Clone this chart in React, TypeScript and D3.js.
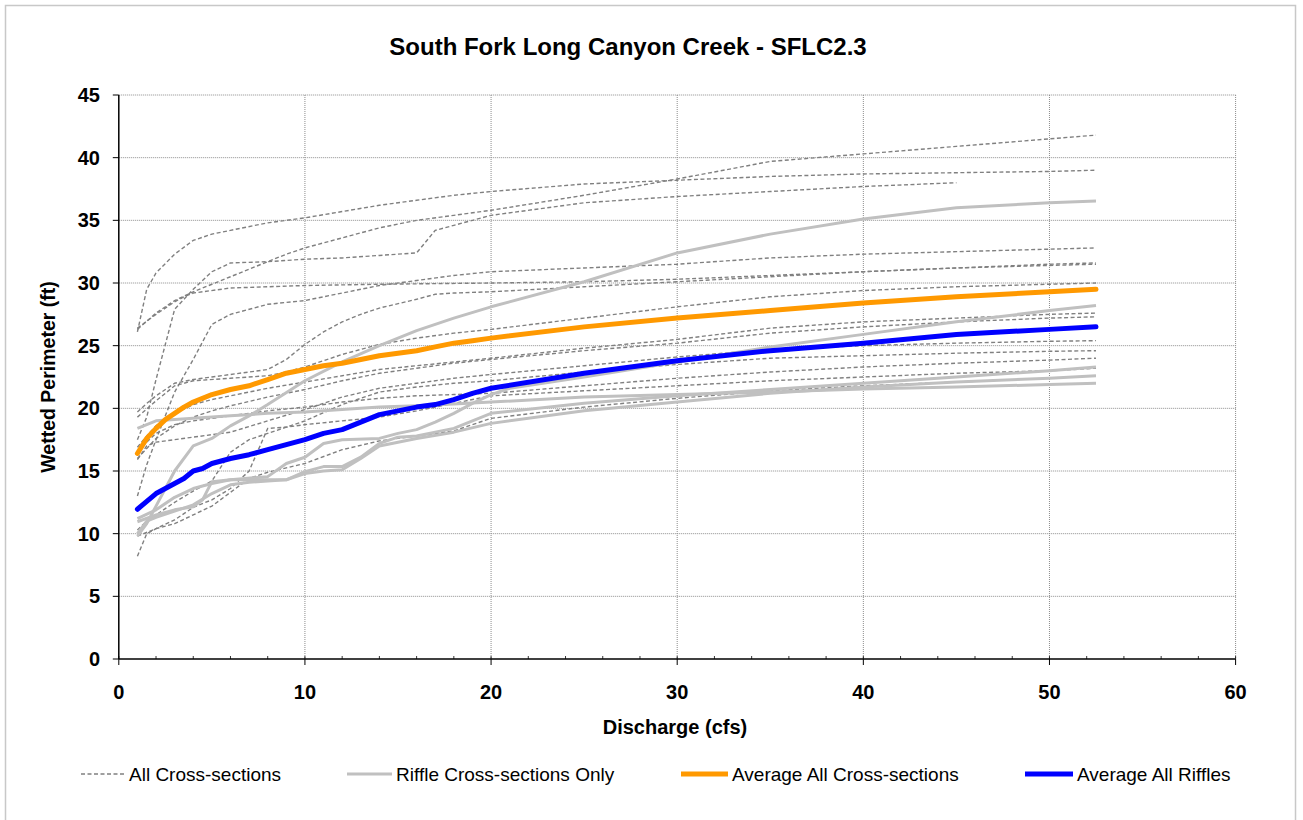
import React from "react";
import * as d3 from "d3";

type Pt = [number, number];

const TITLE = "South Fork Long Canyon Creek - SFLC2.3";
const X_LABEL = "Discharge (cfs)";
const Y_LABEL = "Wetted Perimeter (ft)";
const X_TICKS = [0, 10, 20, 30, 40, 50, 60];
const Y_TICKS = [0, 5, 10, 15, 20, 25, 30, 35, 40, 45];
const X_MINOR = d3.range(0, 61, 2);
const LEGEND = ["All Cross-sections", "Riffle Cross-sections Only", "Average All Cross-sections", "Average All Riffles"];

// All cross-sections (dashed)
const xs01: Pt[] = [[1,26.1],[1.5,29.5],[2,30.8],[3,32.3],[4,33.4],[5,33.9],[6,34.2],[8,34.8],[10,35.2],[12,35.7],[14,36.2],[16,36.6],[18,37.0],[20,37.3],[25,37.9],[30,38.2],[35,38.5],[40,38.7],[45,38.8],[50,38.9],[52.5,39.0]];
const xs02: Pt[] = [[1,26.3],[2,27.6],[3,28.6],[4,29.3],[5,29.9],[6,30.5],[7,31.1],[8,31.7],[9,32.3],[10,32.8],[12,33.6],[14,34.4],[16,35.0],[18,35.4],[20,35.8],[25,37.0],[30,38.3],[35,39.7],[40,40.3],[45,40.9],[50,41.5],[52.5,41.8]];
const xs03: Pt[] = [[1,17.5],[1.5,19.3],[2,22.3],[3,27.9],[4,29.5],[5,30.9],[6,31.6],[8,31.7],[10,31.9],[12,32.0],[14,32.2],[16,32.4],[17,34.2],[18,34.6],[20,35.4],[25,36.4],[30,36.9],[35,37.3],[40,37.7],[45,38.0]];
const xs04: Pt[] = [[1,13.0],[1.5,15.5],[2,17.5],[3,21.3],[4,23.9],[5,26.7],[6,27.5],[8,28.3],[10,28.6],[12,29.2],[14,29.8],[16,30.2],[18,30.6],[20,30.9],[25,31.2],[30,31.5],[35,32.0],[40,32.3],[45,32.5],[50,32.7],[52.5,32.8]];
const xs05: Pt[] = [[1,26.4],[2,27.5],[3,28.5],[3.5,28.9],[4,29.2],[6,29.6],[8,29.7],[10,29.8],[14,29.9],[20,30.0],[25,30.1],[30,30.3],[35,30.6],[40,30.9],[45,31.2],[50,31.4],[52.5,31.5]];
const xs06: Pt[] = [[1,19.7],[1.5,20.4],[2,21.0],[3,22.0],[4,22.3],[5,22.5],[6,22.7],[7,22.9],[8,23.1],[9,23.9],[10,25.1],[11,26.1],[12,26.9],[13,27.5],[14,28.0],[16,28.7],[17,29.1],[18,29.2],[20,29.3],[25,29.7],[30,30.1],[35,30.5],[40,30.9],[45,31.2],[50,31.5],[52.5,31.6]];
const xs07: Pt[] = [[1,19.3],[2,20.6],[3,21.8],[4,22.2],[6,22.4],[8,22.6],[9,22.9],[10,23.3],[12,24.3],[14,25.1],[16,25.6],[18,26.0],[20,26.3],[25,27.2],[30,28.1],[35,28.9],[40,29.4],[45,29.7],[50,29.9],[52.5,30.0]];
const xs08: Pt[] = [[1,16.9],[1.5,17.8],[2,18.6],[3,19.6],[4,20.3],[5,20.7],[6,21.0],[8,21.6],[10,22.1],[12,22.6],[14,23.1],[16,23.4],[18,23.7],[20,24.0],[25,24.8],[30,25.5],[35,26.4],[40,26.9],[45,27.2],[50,27.5],[52.5,27.6]];
const xs09: Pt[] = [[1,16.0],[2,17.6],[3,18.6],[4,19.3],[5,19.8],[6,20.2],[8,20.9],[10,21.5],[12,22.2],[14,22.8],[16,23.2],[18,23.6],[20,23.9],[25,24.6],[30,25.2],[35,26.0],[40,26.5],[45,26.9],[50,27.2],[52.5,27.3]];
const xs10: Pt[] = [[1,15.9],[1.5,17.0],[2,17.3],[3,17.5],[5,17.9],[6,18.1],[8,19.0],[10,19.9],[12,20.9],[14,21.6],[16,22.0],[18,22.4],[20,22.7],[25,23.4],[30,24.1],[35,24.7],[40,25.0],[45,25.2],[50,25.35],[52.5,25.4]];
const xs11: Pt[] = [[1,10.3],[1.5,11.0],[2,11.5],[3,12.5],[4,13.4],[5,14.2],[6,16.5],[7,17.5],[8,18.0],[10,19.0],[12,20.3],[14,21.3],[16,21.7],[18,22.0],[20,22.2],[25,22.9],[30,23.5],[35,24.0],[40,24.2],[45,24.4],[50,24.55],[52.5,24.6]];
const xs12: Pt[] = [[1,16.6],[2,18.0],[3,18.7],[4,19.0],[5,19.2],[6,19.4],[8,19.8],[10,20.1],[12,20.5],[14,20.8],[16,21.0],[18,21.1],[20,21.2],[25,21.8],[30,22.4],[35,22.9],[40,23.3],[45,23.6],[50,23.85],[52.5,24.0]];
const xs13: Pt[] = [[1,8.2],[1.5,10.0],[2,10.4],[3,11.1],[4,12.1],[5,12.7],[6,13.6],[7,15.0],[8,18.4],[9,18.5],[10,18.7],[12,19.0],[14,19.3],[16,19.8],[18,20.4],[20,21.0],[25,21.4],[30,21.8],[35,22.2],[40,22.5],[45,22.8],[50,23.0],[52.5,23.2]];
const xs14: Pt[] = [[1,9.8],[2,10.4],[3,10.8],[4,11.5],[5,12.2],[6,13.3],[7,14.4],[8,14.9],[10,15.6],[12,16.7],[14,17.4],[16,17.8],[18,18.2],[20,19.2],[25,20.1],[30,20.8],[35,21.4],[40,21.8],[45,22.1],[50,22.4],[52.5,22.6]];
const ALL_XS: Pt[][] = [xs01, xs02, xs03, xs04, xs05, xs06, xs07, xs08, xs09, xs10, xs11, xs12, xs13, xs14];

// Riffle cross-sections (solid grey)
const rf1: Pt[] = [[1,18.4],[1.5,18.7],[2,19.0],[3,19.1],[4,19.2],[5,19.3],[6,19.4],[8,19.6],[10,19.7],[12,19.9],[14,20.1],[16,20.2],[18,20.35],[20,20.5],[25,20.9],[30,21.1],[35,21.3],[40,21.55],[45,21.7],[50,21.9],[52.5,22.0]];
const rf2: Pt[] = [[1,9.8],[1.5,10.8],[2,12.2],[3,15.0],[4,17.0],[5,17.6],[6,18.6],[7,19.4],[8,20.3],[10,22.2],[12,23.7],[14,25.0],[16,26.2],[18,27.2],[20,28.1],[25,30.1],[30,32.4],[35,33.9],[40,35.1],[45,36.0],[50,36.4],[52.5,36.55]];
const rf3: Pt[] = [[1,11.2],[2,11.9],[3,12.9],[4,13.6],[5,14.0],[6,14.3],[8,14.55],[9,15.6],[10,16.1],[11,17.2],[12,17.5],[14,17.6],[15,18.0],[16,18.3],[17,18.9],[18,19.6],[19,20.4],[20,21.1],[21,21.6],[25,22.5],[30,23.7],[35,24.9],[40,25.9],[45,26.9],[50,27.8],[52.5,28.2]];
const rf4: Pt[] = [[1,10.95],[2,11.5],[3,11.9],[4,12.15],[4.5,12.7],[5,14.15],[6,14.3],[9,14.3],[10,14.95],[11,15.35],[12,15.35],[13,16.1],[14,17.2],[15,17.7],[16,17.8],[18,18.4],[20,19.6],[25,20.4],[30,21.0],[35,21.5],[40,22.0],[45,22.5],[50,23.0],[52.5,23.3]];
const rf5: Pt[] = [[1,10.0],[1.5,11.0],[2,11.3],[3,11.8],[4,12.3],[5,13.2],[6,13.9],[7,14.1],[8,14.2],[9,14.3],[10,14.8],[11,15.0],[12,15.1],[13,16.0],[14,17.0],[15,17.3],[16,17.6],[18,18.1],[20,18.8],[25,19.8],[30,20.5],[35,21.2],[40,21.7],[45,22.1],[50,22.4],[52.5,22.6]];
const RIFFLES: Pt[][] = [rf1, rf2, rf3, rf4, rf5];

const avgAll: Pt[] = [[1,16.4],[1.5,17.6],[2,18.4],[2.5,19.1],[3,19.6],[3.5,20.1],[4,20.5],[5,21.1],[6,21.5],[7,21.8],[8,22.3],[9,22.8],[10,23.1],[11,23.4],[12,23.6],[13,23.9],[14,24.2],[15,24.4],[16,24.6],[17,24.9],[18,25.2],[19,25.4],[20,25.6],[25,26.5],[30,27.2],[35,27.8],[40,28.4],[45,28.9],[50,29.3],[52.5,29.5]];
const avgRiffles: Pt[] = [[1,11.95],[2,13.2],[3,14.0],[3.5,14.4],[4,15.0],[4.5,15.2],[5,15.6],[6,16.0],[7,16.3],[8,16.7],[9,17.1],[10,17.5],[11,18.0],[12,18.3],[13,18.9],[14,19.5],[15,19.8],[16,20.1],[17,20.3],[18,20.7],[19,21.2],[20,21.6],[25,22.8],[30,23.8],[35,24.6],[40,25.2],[45,25.9],[50,26.3],[52.5,26.5]];

const W = 1303, H = 820;
const PL = 118.8, PR = 1235.6, PT = 95, PB = 659;

export default function App() {
  const x = d3.scaleLinear().domain([0, 60]).range([PL, PR]);
  const y = d3.scaleLinear().domain([0, 45]).range([PB, PT]);
  const line = d3.line<Pt>().x(d => x(d[0])).y(d => y(d[1]));
  const font = "Arial, 'Liberation Sans', sans-serif";
  const dashStyle = { stroke: "#808080", strokeWidth: 1.4, strokeDasharray: "4,2.5", fill: "none" };
  const legendItems = [
    { label: LEGEND[0], x0: 81, x1: 125, style: dashStyle },
    { label: LEGEND[1], x0: 347, x1: 392, style: { stroke: "#c0c0c0", strokeWidth: 3, fill: "none" } },
    { label: LEGEND[2], x0: 681, x1: 728, style: { stroke: "#ff9900", strokeWidth: 5, fill: "none" } },
    { label: LEGEND[3], x0: 1025, x1: 1073, style: { stroke: "#0000ff", strokeWidth: 5, fill: "none" } },
  ];
  return (
    <svg width={W} height={H} style={{ position: "absolute", left: 0, top: 0, background: "#fff" }} fontFamily={font}>
      <rect x={5.5} y={5.5} width={1290} height={840} fill="#fff" stroke="#c8c8c8" strokeWidth={1.5} />
      <text x={628} y={55} textAnchor="middle" fontSize={24} fontWeight="bold">{TITLE}</text>
      {/* grid */}
      {Y_TICKS.filter(t => t > 0).map(t => (
        <line key={"gy" + t} x1={PL} x2={PR} y1={y(t)} y2={y(t)} stroke="#8c8c8c" strokeWidth={1} strokeDasharray="1,1" />
      ))}
      {X_TICKS.filter(t => t > 0).map(t => (
        <line key={"gx" + t} x1={x(t)} x2={x(t)} y1={PT} y2={PB} stroke="#8c8c8c" strokeWidth={1} strokeDasharray="1,1" />
      ))}
      {/* series */}
      {ALL_XS.map((s, i) => <path key={"xs" + i} d={line(s) || ""} {...dashStyle} />)}
      {RIFFLES.map((s, i) => <path key={"rf" + i} d={line(s) || ""} stroke="#c0c0c0" strokeWidth={3} fill="none" strokeLinejoin="round" />)}
      <path d={line(avgAll) || ""} stroke="#ff9900" strokeWidth={5} fill="none" strokeLinejoin="round" strokeLinecap="round" />
      <path d={line(avgRiffles) || ""} stroke="#0000ff" strokeWidth={5} fill="none" strokeLinejoin="round" strokeLinecap="round" />
      {/* axes */}
      <line x1={PL} x2={PL} y1={PT} y2={PB} stroke="#000" strokeWidth={1.5} />
      <line x1={PL} x2={PR} y1={PB} y2={PB} stroke="#000" strokeWidth={1.5} />
      {Y_TICKS.map(t => (
        <g key={"yt" + t}>
          <line x1={PL - 6} x2={PL} y1={y(t)} y2={y(t)} stroke="#000" />
          <text x={100} y={y(t) + 7} textAnchor="end" fontSize={20} fontWeight="bold">{t}</text>
        </g>
      ))}
      {X_MINOR.map(t => (
        <line key={"xm" + t} x1={x(t)} x2={x(t)} y1={PB - 3} y2={PB} stroke="#000" strokeWidth={0.8} />
      ))}
      {X_TICKS.map(t => (
        <g key={"xt" + t}>
          <line x1={x(t)} x2={x(t)} y1={PB} y2={PB + 6} stroke="#000" />
          <text x={x(t)} y={699} textAnchor="middle" fontSize={20} fontWeight="bold">{t}</text>
        </g>
      ))}
      <text x={675} y={734} textAnchor="middle" fontSize={20} fontWeight="bold">{X_LABEL}</text>
      <text transform={`translate(55,${(PT + PB) / 2}) rotate(-90)`} textAnchor="middle" fontSize={19.5} fontWeight="bold">{Y_LABEL}</text>
      {/* legend */}
      {legendItems.map((it, i) => (
        <g key={"lg" + i}>
          <line x1={it.x0} x2={it.x1} y1={774} y2={774} {...it.style} />
          <text x={it.x1 + 4} y={781} fontSize={19}>{it.label}</text>
        </g>
      ))}
    </svg>
  );
}
